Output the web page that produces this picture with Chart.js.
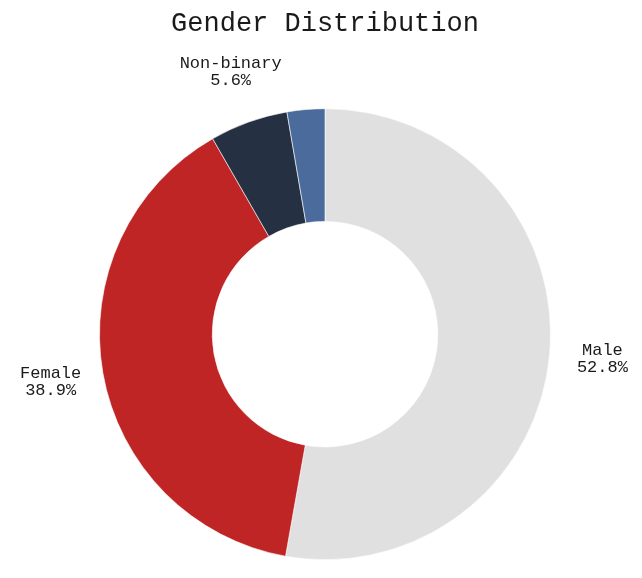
<!DOCTYPE html>
<html lang="en">

<head>
    <meta charset="UTF-8">
    <title>Gender Distribution</title>
    <script src="https://cdnjs.cloudflare.com/ajax/libs/Chart.js/4.4.1/chart.umd.min.js"></script>
    <style>
        html, body {
            margin: 0;
            padding: 0;
            background: #fff;
        }

        .chart-wrapper {
            width: 642px;
            height: 578px;
        }
    </style>
</head>

<body>
    <div class="chart-wrapper">
        <canvas id="genderChart"></canvas>
    </div>

    <script>
        // Chart data
        const categories = ['Male', 'Female', 'Non-binary', 'Prefer not to say'];
        const shares = [52.8, 38.9, 5.6, 2.7];
        const sliceColors = ['#e0e0e0', '#c02526', '#253042', '#4a6b9b'];

        const FONT = "'Liberation Mono', 'DejaVu Sans Mono', monospace";

        // Draws "name / value%" outside each slice, skips very small slices
        const outsideLabels = {
            id: 'outsideLabels',
            afterDatasetsDraw(chart) {
                const ctx = chart.ctx;
                const meta = chart.getDatasetMeta(0);
                ctx.save();
                ctx.font = '17px ' + FONT;
                ctx.fillStyle = '#1a1a1a';
                ctx.textAlign = 'center';
                ctx.textBaseline = 'middle';
                meta.data.forEach((arc, i) => {
                    if (shares[i] < 3) return;
                    const p = arc.getProps(['x', 'y', 'startAngle', 'endAngle', 'outerRadius'], true);
                    const mid = (p.startAngle + p.endAngle) / 2;
                    const r = p.outerRadius + 53;
                    const cx = p.x + Math.cos(mid) * r;
                    const cy = p.y + Math.sin(mid) * r;
                    ctx.fillText(categories[i], cx, cy - 8.5);
                    ctx.fillText(shares[i].toFixed(1) + '%', cx, cy + 8.5);
                });
                ctx.restore();
            }
        };

        const ctx = document.getElementById('genderChart').getContext('2d');
        new Chart(ctx, {
            type: 'doughnut',
            data: {
                labels: categories,
                datasets: [{
                    data: shares,
                    backgroundColor: sliceColors,
                    borderColor: '#ffffff',
                    borderWidth: 0.6
                }]
            },
            options: {
                responsive: true,
                maintainAspectRatio: false,
                animation: false,
                cutout: '50%',
                layout: {
                    padding: { top: 0, bottom: 18, left: 8, right: 0 }
                },
                plugins: {
                    legend: { display: false },
                    tooltip: { enabled: false },
                    title: {
                        display: true,
                        text: 'Gender Distribution',
                        color: '#1a1a1a',
                        font: { family: FONT, size: 27, weight: 'normal' },
                        padding: { top: 8, bottom: 68 }
                    }
                }
            },
            plugins: [outsideLabels]
        });
    </script>
</body>

</html>
